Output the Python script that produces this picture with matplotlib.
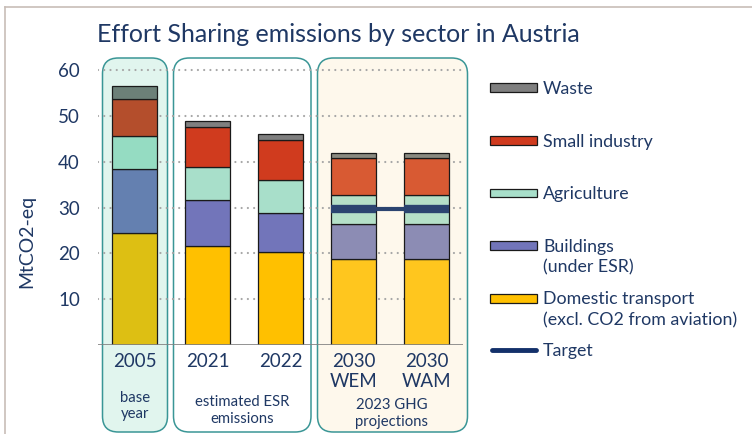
import matplotlib.pyplot as plt
from matplotlib.patches import FancyBboxPatch, Rectangle
from matplotlib.lines import Line2D
import numpy as np

plt.rcParams['font.family'] = ['Lato', 'DejaVu Sans']

# data (MtCO2-eq)
bar_labels = ['2005', '2021', '2022', '2030\nWEM', '2030\nWAM']
sectors = ['Domestic transport', 'Buildings', 'Agriculture', 'Small industry', 'Waste']
transport = [24.5, 21.5, 20.3, 18.8, 18.8]
buildings = [13.9, 10.1, 8.6, 7.5, 7.5]
agriculture = [7.1, 7.3, 7.2, 6.4, 6.4]
small_industry = [8.1, 8.7, 8.7, 8.1, 8.1]
waste = [3.0, 1.3, 1.2, 1.0, 1.0]
target = 29.7
legend_labels = ['Waste', 'Small industry', 'Agriculture', 'Buildings\n(under ESR)',
                 'Domestic transport\n(excl. CO2 from aviation)', 'Target']
group_labels = ['base\nyear', 'estimated ESR\nemissions', '2023 GHG\nprojections']

# colours per bar group (base year / estimated / projections)
colors_2005 = ['#DDBF13', '#6480B0', '#95DCC2', '#B44E2C', '#6C8078']
colors_est = ['#FFC000', '#7275BA', '#A8DFCA', '#D03B1E', '#7F7F7F']
colors_proj = ['#FFC61E', '#8C8CB4', '#B5E0C8', '#D85A33', '#8A8A80']
bar_colors = [colors_2005, colors_est, colors_est, colors_proj, colors_proj]
legend_colors = ['#7F7F7F', '#D03B1E', '#A8DFCA', '#7275BA', '#FFC000']
navy = '#1F3864'
target_color = '#2B4470'

W, H = 752, 434
fig = plt.figure(figsize=(W / 100, H / 100), dpi=100)


def fx(px):
    return px / W


def fy(py):
    return 1 - py / H


ax = fig.add_axes([fx(98), fy(345), fx(463) - fx(98), 62 * 4.583 / H])
ax.set_facecolor('none')

# rounded group panels
panels = [(102.5, 167.5, '#E1F5EE'), (173.5, 311, 'white'), (317.5, 467.5, '#FEF8EC')]
for x0, x1, fc in panels:
    p = FancyBboxPatch((fx(x0), fy(432)), fx(x1) - fx(x0), fy(58) - fy(432),
                       boxstyle='round,pad=0,rounding_size=0.021', mutation_aspect=W / H,
                       transform=fig.transFigure, clip_on=False, fc=fc, ec='#3A9696',
                       lw=1.1, zorder=0)
    ax.add_patch(p)

# dotted gridlines
for v in range(10, 61, 10):
    ax.axhline(v, color='#A6A6A6', lw=1.6, ls=(0, (0.01, 2.8)), dash_capstyle='round',
               zorder=1)

x = np.arange(len(bar_labels))
stack = [transport, buildings, agriculture, small_industry, waste]
bottom = np.zeros(len(x))
for k, vals in enumerate(stack):
    cols = [bar_colors[i][k] for i in range(len(x))]
    ax.bar(x, vals, width=0.63, bottom=bottom, color=cols, edgecolor='#1A1A1A',
           lw=0.9, zorder=2)
    bottom += np.array(vals)

# target for 2030 scenarios
ax.plot([3, 4], [target, target], color=target_color, lw=3, zorder=3,
        solid_capstyle='butt')
for xi in [3, 4]:
    ax.plot([xi - 0.315, xi + 0.315], [target, target], color=target_color, lw=6,
            zorder=3, solid_capstyle='butt')

ax.axhline(0, color='#808080', lw=1.2, zorder=3)
ax.set_xlim(-0.5, 4.5)
ax.set_ylim(0, 62)
ax.set_yticks(range(10, 61, 10))
ax.set_xticks(x)
ax.set_xticklabels(bar_labels, fontsize=13.5, color=navy, linespacing=1.2)
ax.tick_params(axis='both', length=0, labelcolor=navy, labelsize=13.5)
ax.tick_params(axis='x', pad=6)
ax.tick_params(axis='y', pad=13)
for s in ax.spines.values():
    s.set_visible(False)

fig.text(fx(27), fy(241), 'MtCO2-eq', rotation=90, ha='center', va='center',
         fontsize=14, color=navy)
fig.text(fx(97), fy(42), 'Effort Sharing emissions by sector in Austria', fontsize=18,
         color=navy, va='baseline')

group_pos = [(135, 406), (241.7, 410.5), (391.7, 413.5)]
for (gx, gy), lab in zip(group_pos, group_labels):
    fig.text(fx(gx), fy(gy), lab, ha='center', va='center', fontsize=10.7, color=navy,
             linespacing=1.2)

# legend
legend_y = [87.5, 140.7, 193, 245.5, 298, 350]
for k, (lab, ly) in enumerate(zip(legend_labels, legend_y)):
    if k < 5:
        fig.add_artist(Rectangle((fx(490), fy(ly + 4.5)), fx(537) - fx(490), 9 / H,
                                 transform=fig.transFigure, fc=legend_colors[k],
                                 ec='#1A1A1A', lw=0.9))
    else:
        fig.add_artist(Line2D([fx(492), fx(536)], [fy(ly), fy(ly)], color='#13306A',
                              lw=3.5, solid_capstyle='round'))
    for j, line in enumerate(lab.split('\n')):
        fig.text(fx(543), fy(ly - 0.5 + j * 21.3), line, fontsize=12.75, color=navy,
                 va='center_baseline')

# outer border (top and left only)
fig.add_artist(Line2D([fx(4.5), 1], [fy(6.5), fy(6.5)], color='#C8BEB8', lw=1.2))
fig.add_artist(Line2D([fx(4.5), fx(4.5)], [fy(6.5), 0], color='#C8BEB8', lw=1.2))

fig.savefig('out.png', dpi=100)
